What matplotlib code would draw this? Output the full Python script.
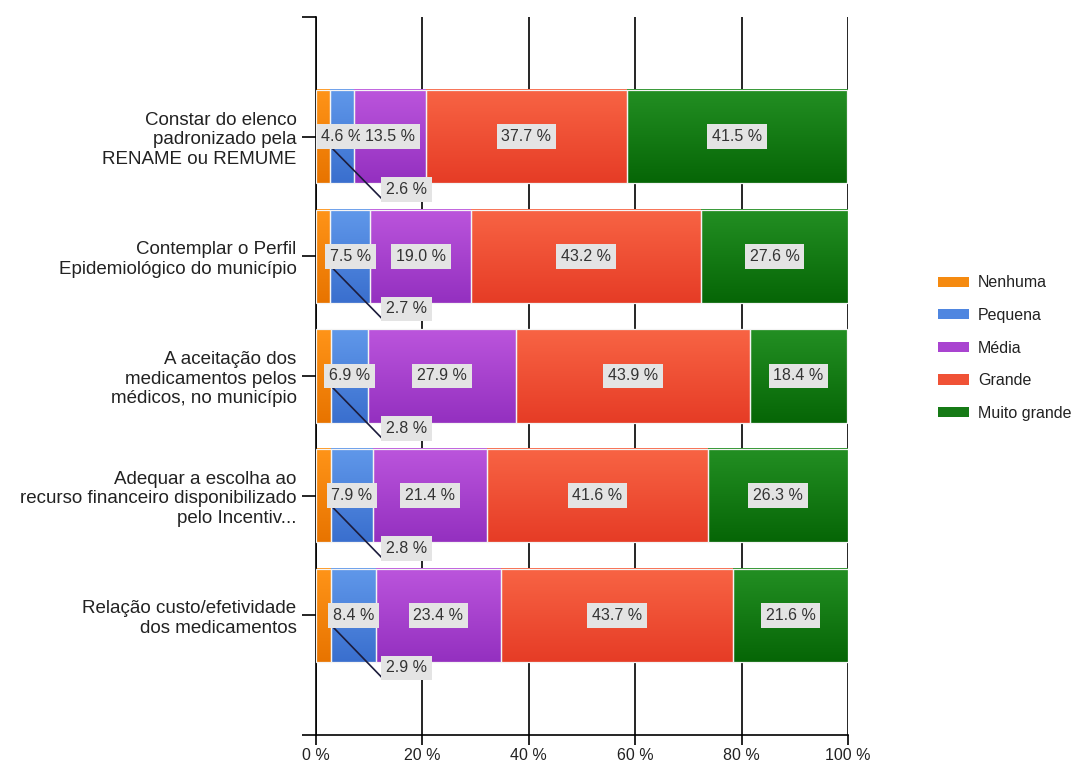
import numpy as np
import matplotlib
matplotlib.use("Agg")
from matplotlib import pyplot as plt
from matplotlib.colors import LinearSegmentedColormap
from matplotlib.patches import Patch

plt.rcParams['font.family'] = ['Liberation Sans', 'DejaVu Sans']

# categorias (de cima para baixo)
categorias = [
    "Constar do elenco\npadronizado pela\nRENAME ou REMUME",
    "Contemplar o Perfil\nEpidemiológico do município",
    "A aceitação dos\nmedicamentos pelos\nmédicos, no município",
    "Adequar a escolha ao\nrecurso financeiro disponibilizado\npelo Incentiv...",
    "Relação custo/efetividade\ndos medicamentos",
]

series = ["Nenhuma", "Pequena", "Média", "Grande", "Muito grande"]

nenhuma = [2.6, 2.7, 2.8, 2.8, 2.9]
pequena = [4.6, 7.5, 6.9, 7.9, 8.4]
media = [13.5, 19.0, 27.9, 21.4, 23.4]
grande = [37.7, 43.2, 43.9, 41.6, 43.7]
muito_grande = [41.5, 27.6, 18.4, 26.3, 21.6]

valores = [nenhuma, pequena, media, grande, muito_grande]

xticks = [0, 20, 40, 60, 80, 100]

# cor clara (topo) -> cor escura (base), e cor da legenda
cores = [
    ("#ff9418", "#e87400", "#f58a10"),
    ("#6098ea", "#3a6fce", "#4f86e0"),
    ("#bb55dc", "#9430c0", "#a944d0"),
    ("#f86444", "#e63c26", "#f05236"),
    ("#238f23", "#066606", "#167a16"),
]

fig = plt.figure(figsize=(10.79, 7.65), dpi=100)
ax = fig.add_axes([316 / 1079, 1 - 735 / 765, (848 - 316) / 1079, (735 - 17) / 765])

n = len(categorias)
ypos = np.arange(n, 0, -1)
altura = 0.78

grad = np.linspace(0, 1, 64).reshape(-1, 1)

esquerda = np.zeros(n)
for s, vals in enumerate(valores):
    cmap = LinearSegmentedColormap.from_list("c%d" % s, [cores[s][0], cores[s][1]])
    for i in range(n):
        x0 = esquerda[i]
        x1 = x0 + vals[i]
        y = ypos[i]
        ax.imshow(grad, cmap=cmap, aspect='auto', interpolation='bilinear',
                  extent=(x0, x1, y - altura / 2, y + altura / 2), zorder=2)
    ax.barh(ypos, vals, left=esquerda, height=altura, facecolor='none',
            edgecolor='#f4f4f4', linewidth=0.9, zorder=3)
    esquerda = esquerda + np.array(vals)

# rótulos dos valores
caixa = dict(boxstyle='square,pad=0.3', facecolor='#e4e4e4', edgecolor='none')
esquerda = np.zeros(n)
for s, vals in enumerate(valores):
    for i in range(n):
        y = ypos[i]
        xc = esquerda[i] + vals[i] / 2
        txt = "%.1f %%" % vals[i]
        if s == 0:
            # rótulo deslocado com linha de chamada
            ax.plot([xc + 1.8, 12.4], [y - 0.1, y - 0.52], color='#1c1c3c',
                    linewidth=1.2, zorder=4)
            ax.text(13.2, y - 0.44, txt, ha='left', va='center', fontsize=11.5,
                    color='#333333', bbox=caixa, zorder=6)
        else:
            ax.text(xc, y, txt, ha='center', va='center', fontsize=11.5,
                    color='#333333', bbox=caixa, zorder=5)
    esquerda = esquerda + np.array(vals)

ax.set_xlim(0, 100)
ax.set_ylim(0, n + 1)
ax.set_xticks(xticks)
ax.set_xticklabels(["%d %%" % t for t in xticks], fontsize=11.5, color='#222222')
ax.set_yticks([0] + list(ypos) + [n + 1])
ax.set_yticklabels([""] + categorias + [""], fontsize=13.5, color='#222222',
                   linespacing=1.2)
ax.tick_params(axis='y', length=10, width=1.2, pad=4)
ax.tick_params(axis='x', length=7, width=1.2, pad=2)

ax.grid(axis='x', color='black', linewidth=1.2, zorder=0)
ax.set_axisbelow(True)
for lado in ['top', 'right']:
    ax.spines[lado].set_visible(False)
for lado in ['left', 'bottom']:
    ax.spines[lado].set_linewidth(1.2)

handles = [Patch(facecolor=c[2], edgecolor='none') for c in cores]
fig.legend(handles, series, loc='center left', bbox_to_anchor=(0.862, 0.545),
           frameon=False, fontsize=11.5, handlelength=1.95, handleheight=0.6,
           handletextpad=0.55, labelspacing=1.1, borderpad=0, labelcolor='#222222')

fig.savefig("out.png", dpi=100)
